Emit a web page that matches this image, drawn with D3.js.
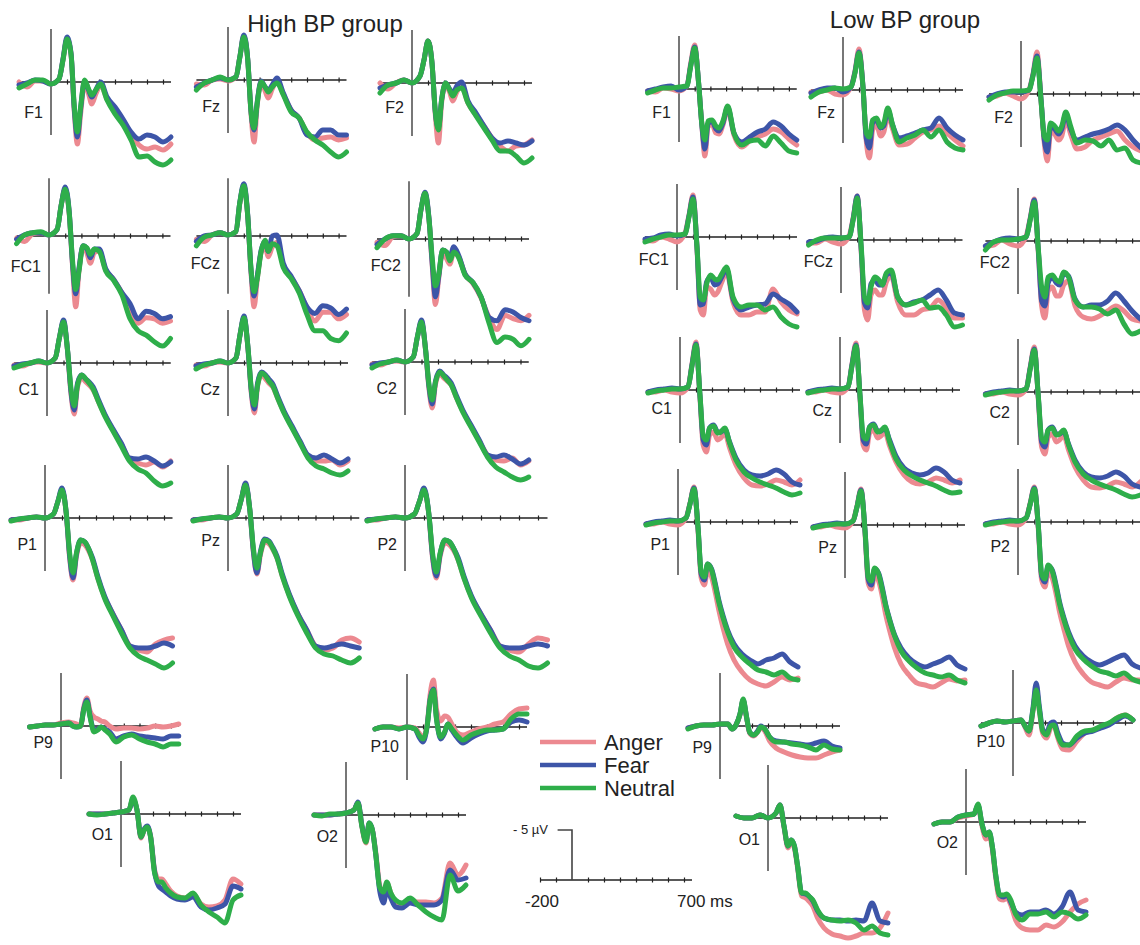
<!DOCTYPE html>
<html>
<head>
<meta charset="utf-8">
<script src="https://d3js.org/d3.v7.min.js"></script>
<style>
  body { margin: 0; background: #fff; }
  svg { display: block; }
  text { font-family: "Liberation Sans", Arial, Helvetica, sans-serif; fill: #222; }
</style>
</head>
<body>
<svg id="chart" width="1140" height="945"></svg>
<script>
// --- time grid (ms) shared by every trace ---
const times = [-200,-150,-100,-50,0,50,75,100,125,145,165,185,210,235,255,280,310,350,400,450,500,550,600,650,700,750];
const conditions = ["Anger", "Fear", "Neutral"];
const tickTimes = [100, 200, 300, 400, 500, 600, 700];

// --- amplitudes in µV (positive plotted downward), order: Anger, Fear, Neutral ---
// High BP group
const HI_F1 = [
  [0.0,0.5,-0.1,-0.1,0.2,-0.3,-2.2,-4.3,-2.8,2.8,6.2,3.2,0.1,1.2,2.2,1.2,0.3,1.7,2.7,3.9,5.2,6.3,6.7,6.5,6.8,6.2],
  [0.3,0.1,-0.2,-0.1,0.2,-0.3,-2.3,-4.5,-2.9,2.6,5.5,2.7,-0.1,0.8,1.5,0.8,0.0,1.5,2.5,3.7,5.0,5.7,5.3,5.5,6.0,5.5],
  [0.6,0.2,-0.2,-0.2,0.2,-0.3,-2.2,-4.3,-2.8,2.3,5.0,2.5,-0.2,0.7,1.3,0.8,0.2,1.8,3.2,4.3,5.8,7.5,7.4,8.0,8.3,7.8]];
const HI_FZ = [
  [0.4,0.5,0,-0.1,0.1,-0.3,-2.3,-4.4,-2.0,3.2,6.2,2.5,0.2,1.1,1.8,0.9,0.1,1.4,3.0,3.8,5.3,6.0,5.8,5.7,6.0,5.8],
  [0.7,0.3,0,-0.2,0,-0.3,-2.3,-4.5,-2.1,3.0,5.0,2.2,0.1,0.7,1.0,0.5,-0.2,1.3,3.0,3.8,5.5,5.7,5.0,5.0,5.5,5.5],
  [1.0,0.3,0,-0.3,0,-0.3,-2.3,-4.3,-2.0,3.0,4.8,2.3,0.2,0.7,1.2,0.7,0.3,1.5,3.2,3.8,5.2,6.0,6.5,7.2,7.7,7.2]];
const HI_F2 = [
  [0.0,0.6,0,-0.3,0,-0.7,-2.3,-4.2,-2.0,3.0,6.0,2.0,0.2,0.9,1.8,0.9,0.3,2.0,3.2,4.3,5.5,6.3,6.8,6.3,6.2,5.7],
  [0.5,0.2,0,-0.3,0,-0.7,-2.3,-4.2,-2.0,2.8,4.5,1.7,0.0,0.6,1.0,0.3,-0.1,1.8,3.0,4.3,5.5,6.0,5.8,6.0,6.2,5.8],
  [1.0,0.2,0,-0.3,0,-0.7,-2.3,-4.2,-2.0,2.7,4.7,1.7,0.0,0.7,1.3,0.7,0.5,2.0,3.3,4.5,5.7,6.8,6.8,7.3,8.0,7.5]];
const HI_FC1 = [
  [0.2,0.5,-0.2,-0.3,-0.1,-0.6,-2.8,-4.3,-2.0,2.7,6.5,3.2,1.0,1.6,2.5,1.5,1.4,3.1,4.0,5.2,6.5,8.0,7.5,7.6,8.0,7.8],
  [0.3,-0.1,-0.3,-0.3,-0.1,-0.6,-2.8,-4.5,-2.2,2.5,5.3,3.0,0.9,1.2,2.0,1.2,1.2,3.0,4.0,5.2,6.2,7.6,6.9,7.1,7.6,7.4],
  [0.7,-0.1,-0.3,-0.4,-0.1,-0.6,-2.8,-4.3,-2.1,2.2,4.9,3.2,0.9,1.1,1.7,1.2,1.4,3.2,4.1,5.4,7.6,8.7,9.1,9.7,10.1,9.4]];
const HI_FCZ = [
  [0.3,0.5,-0.1,-0.3,-0.1,-0.4,-3.0,-4.6,-1.8,3.2,6.5,4.0,1.5,1.0,1.9,1.0,0.6,2.7,3.8,5.0,6.6,7.8,7.0,7.0,7.6,7.2],
  [0.5,0.0,-0.1,-0.3,-0.1,-0.4,-3.1,-4.8,-1.9,3.0,5.5,3.7,1.3,0.5,1.4,0.0,-0.1,2.5,3.7,5.0,6.5,7.1,6.4,6.6,7.2,6.7],
  [0.9,0.1,-0.1,-0.3,-0.1,-0.4,-3.1,-4.6,-1.8,2.9,5.1,3.9,1.4,0.4,1.4,0.7,0.9,2.9,3.9,5.2,7.2,8.7,8.7,9.4,9.6,8.9]];
const HI_FC2 = [
  [0.3,0.6,-0.2,-0.3,0,-0.5,-2.7,-4.2,-1.8,2.4,6.0,3.7,1.2,1.8,2.3,1.2,1.6,3.2,4.1,5.4,7.2,8.3,7.0,7.3,7.5,7.0],
  [0.5,0.0,-0.3,-0.3,0,-0.5,-2.7,-4.3,-1.9,2.2,5.3,3.5,1.0,1.2,1.7,0.7,1.5,3.2,4.0,5.3,7.2,7.5,6.5,6.7,7.2,7.5],
  [0.8,0.0,-0.3,-0.3,0,-0.5,-2.7,-4.2,-1.8,1.7,4.3,3.3,1.0,1.2,2.0,1.2,1.7,3.3,4.0,5.3,7.7,9.5,9.0,9.2,9.8,9.2]];
const HI_C1 = [
  [0.2,0.3,0,-0.1,0,-0.5,-2.5,-4.1,-1.1,3.0,5.1,2.4,1.5,1.9,2.2,2.7,3.8,5.2,6.7,8.1,9.6,10.0,10.2,9.9,10.4,9.8],
  [0.3,0.1,0,-0.2,0,-0.5,-2.5,-4.3,-1.2,2.8,4.7,2.0,1.2,1.6,1.9,2.4,3.6,5.1,6.6,8.0,9.5,9.6,9.4,9.8,10.3,9.9],
  [0.5,0.2,0,-0.2,0,-0.5,-2.5,-4.1,-1.2,2.5,4.3,2.2,1.2,1.6,2.0,2.6,3.8,5.3,6.8,8.3,9.8,10.6,11.0,11.8,12.3,12.0]];
const HI_CZ = [
  [0.2,0.3,0,-0.1,0,-0.5,-2.8,-4.5,-1.4,2.9,5.0,2.3,1.2,1.6,2.0,2.4,3.5,4.9,6.4,7.9,9.3,9.8,9.8,9.7,10.2,9.8],
  [0.3,0.1,0,-0.2,0,-0.5,-2.8,-4.7,-1.5,2.7,4.6,2.0,0.9,1.2,1.6,2.1,3.3,4.8,6.3,7.8,9.2,9.5,9.2,9.6,10.0,9.6],
  [0.6,0.2,0,-0.2,0,-0.5,-2.8,-4.5,-1.5,2.5,4.2,2.2,1.0,1.3,1.8,2.3,3.5,5.0,6.5,8.0,9.5,10.3,10.6,11.0,11.2,10.8]];
const HI_C2 = [
  [0.2,0.3,0,-0.1,0,-0.5,-2.5,-4.0,-1.1,2.6,4.6,2.2,1.2,1.6,1.9,2.3,3.5,4.9,6.4,7.9,9.3,9.8,9.9,9.6,10.3,9.9],
  [0.3,0.1,0,-0.2,0,-0.5,-2.5,-4.2,-1.2,2.4,4.2,1.9,0.9,1.3,1.6,2.1,3.3,4.8,6.3,7.8,9.3,9.5,9.3,9.7,10.2,9.8],
  [0.6,0.2,0,-0.2,0,-0.5,-2.5,-4.0,-1.2,2.2,3.8,2.0,1.0,1.4,1.8,2.3,3.5,5.0,6.5,8.0,9.5,10.5,11.0,11.5,11.8,11.5]];
const HI_P1 = [
  [0.2,0.2,0,-0.1,0,-0.4,-1.6,-2.8,-0.4,4.0,6.2,3.8,2.5,2.7,3.2,4.2,6.0,7.9,9.6,11.2,12.8,13.2,13.4,12.6,12.2,12.0],
  [0.2,0.1,0,-0.1,0,-0.4,-1.6,-3.0,-0.5,3.8,6.0,3.6,2.2,2.4,3.0,4.0,5.8,7.8,9.6,11.2,12.8,13.0,13.0,12.8,12.5,12.8],
  [0.3,0.1,0,-0.1,0,-0.4,-1.6,-2.8,-0.5,3.5,5.5,3.5,2.2,2.4,3.0,4.2,6.0,8.0,9.8,11.5,13.0,13.8,14.2,14.6,15.0,14.5]];
const HI_PZ = [
  [0.2,0.2,0,-0.1,0,-0.4,-1.8,-3.3,-0.7,3.4,5.6,3.7,2.4,2.6,3.1,4.0,5.8,7.7,9.6,11.2,12.8,13.2,13.0,12.2,12.0,12.4],
  [0.2,0.1,0,-0.1,0,-0.4,-1.8,-3.5,-0.8,3.3,5.5,3.4,2.1,2.3,2.9,3.8,5.6,7.6,9.6,11.2,12.8,13.0,12.8,12.6,12.8,13.0],
  [0.3,0.1,0,-0.1,0,-0.4,-1.8,-3.3,-0.8,3.0,5.0,3.5,2.2,2.4,3.0,4.0,5.8,7.8,9.8,11.5,13.0,13.6,13.8,14.2,14.5,14.0]];
const HI_P2 = [
  [0.2,0.2,0,-0.1,0,-0.4,-1.6,-2.8,-0.4,4.0,6.0,3.8,2.5,2.7,3.2,4.2,6.0,7.9,9.6,11.2,12.8,13.2,13.4,12.6,12.0,12.2],
  [0.2,0.1,0,-0.1,0,-0.4,-1.6,-3.0,-0.5,3.8,5.8,3.6,2.2,2.4,3.0,4.0,5.8,7.8,9.6,11.2,12.8,13.0,13.0,12.8,12.6,12.8],
  [0.3,0.1,0,-0.1,0,-0.4,-1.6,-2.8,-0.5,3.5,5.4,3.5,2.2,2.4,3.0,4.2,6.0,8.0,9.8,11.5,13.0,13.8,14.2,14.8,15.0,14.5]];
const HI_P9 = [
  [0.1,0,-0.1,-0.1,-0.3,-0.4,-0.3,-0.2,0,-1.9,-2.8,-1.5,-0.9,-0.7,-0.5,-0.4,0.0,0.3,0.2,0.2,0.3,0.2,0.0,0.1,0.0,-0.2],
  [0.1,0,-0.1,-0.1,-0.2,-0.3,0,0.1,0,-1.7,-2.6,-1.0,0.4,0.3,0.1,0.3,0.6,1.3,1.0,0.8,1.0,1.1,1.2,1.3,1.0,1.0],
  [0.1,0,-0.1,-0.1,-0.2,-0.3,0,0.1,0,-1.6,-2.4,-0.9,0.6,0.4,0.1,0.4,0.8,1.6,1.1,0.9,1.3,1.6,1.8,2.1,1.8,1.8]];
const HI_P10 = [
  [0.2,0,0,0.1,0,0.1,0.6,1.0,-0.1,-3.3,-4.7,-1.7,-0.6,-1.1,-1.0,-0.3,0.5,0.8,0.5,0.2,0.0,-0.3,-0.5,-1.3,-1.8,-1.9],
  [0.2,0,0,0.2,0,0.2,1.0,1.5,0,-2.8,-3.8,-0.8,1.2,0.6,-0.3,0.3,1.0,1.6,1.1,0.7,0.4,0.3,0.2,-0.5,-0.7,-0.5],
  [0.2,0,0,0.2,0,0.2,0.8,1.2,0,-2.7,-3.7,-0.7,1.0,0.5,-0.3,0.2,0.8,1.3,0.8,0.5,0.3,0.3,0.2,-0.8,-1.3,-1.3]];
const HI_O1 = [
  [0,0,0,-0.1,-0.2,-0.4,-1.5,-0.4,2.4,1.6,1.3,2.2,5.6,6.5,6.5,7.0,7.7,8.2,8.4,8.0,9.0,9.3,9.2,8.6,6.5,7.0],
  [0,0,0,-0.1,-0.2,-0.4,-1.5,-0.4,2.3,1.5,1.2,2.3,5.8,7.2,7.5,7.8,8.2,8.5,8.6,8.3,9.3,9.6,9.4,9.0,7.2,7.5],
  [0,0.1,0,-0.1,-0.2,-0.4,-1.7,-0.4,2.3,1.6,1.3,2.3,5.9,6.8,6.8,7.4,7.9,8.3,8.4,7.9,9.1,9.8,10.3,10.9,8.6,8.1]];
const HI_O2 = [
  [0,0,0,-0.1,-0.2,-0.5,-1.2,1.2,2.8,0.9,1.5,3.6,7.0,8.0,6.8,7.8,8.8,9.0,8.5,8.7,8.7,8.8,8.3,4.8,6.0,5.0],
  [0,0,0,-0.1,-0.2,-0.5,-1.3,1.1,2.6,0.8,1.5,3.8,7.5,8.8,7.5,8.3,9.2,9.3,8.8,9.0,9.0,9.0,8.5,5.5,6.5,6.3],
  [0,0.1,-0.1,-0.1,-0.2,-0.5,-1.2,1.2,2.7,0.8,1.5,3.8,7.2,7.7,6.7,7.8,8.5,8.8,8.3,9.0,9.7,10.2,10.5,6.0,7.6,7.0]];

// Low BP group
const LO_F1 = [
  [0.2,0.3,-0.1,0.0,0.2,-0.3,-2.6,-4.4,-0.5,3.5,6.7,3.8,3.5,4.4,4.5,3.6,2.0,4.6,5.8,5.2,4.8,4.5,4.0,4.3,5.0,5.6],
  [0.2,0.0,-0.2,-0.3,0.1,-0.3,-2.4,-4.2,-0.6,3.5,6.0,3.5,3.2,4.0,4.2,3.4,1.8,4.4,5.3,4.8,4.3,4.0,3.3,3.7,4.5,5.1],
  [0.4,0.1,-0.1,-0.1,-0.2,-0.3,-2.3,-4.1,-0.6,3.4,5.1,3.2,3.1,3.7,3.9,3.2,1.7,4.4,5.6,5.2,5.1,5.7,4.7,5.4,6.2,6.4]];
const LO_FZ = [
  [0.2,0.2,0,0.4,0.5,-0.3,-1.9,-4.1,-0.2,5.0,6.8,4.0,3.5,4.6,4.2,2.5,3.9,5.5,5.4,4.8,4.2,4.0,3.6,4.3,5.0,5.6],
  [0.3,0.0,-0.2,-0.2,0.2,-0.3,-1.8,-3.8,-0.3,4.8,5.8,3.3,3.0,3.8,3.6,2.0,3.5,4.8,4.6,4.3,4.0,3.8,2.8,3.8,4.5,5.0],
  [0.7,0.2,0,-0.2,-0.1,-0.3,-1.7,-3.7,-0.3,4.3,4.7,3.0,2.8,3.7,3.3,1.8,3.5,5.2,4.8,4.5,4.0,4.7,4.0,5.2,5.8,6.0]];
const LO_F2 = [
  [0.3,0.2,-0.1,0.2,0.5,-0.4,-2.0,-4.2,0.6,4.8,6.7,3.8,4.0,4.6,4.2,2.6,4.0,5.5,5.3,4.6,4.3,4.0,3.7,4.6,5.3,5.7],
  [0.3,0,-0.2,-0.2,-0.2,-0.4,-1.9,-3.8,0.5,4.5,5.8,3.2,3.5,4.0,3.5,2.0,3.5,4.6,4.3,4.0,3.8,3.5,3.1,3.6,4.6,5.4],
  [0.6,0.1,-0.1,-0.3,-0.3,-0.4,-1.8,-3.6,0.6,4.2,4.6,2.9,3.2,3.7,3.2,1.8,3.2,4.9,4.6,4.7,5.2,4.6,5.6,5.4,6.6,6.9]];
const LO_FC1 = [
  [0.3,0.4,0.0,0.2,0.5,-0.4,-2.2,-4.2,1.2,7.3,7.8,5.0,5.2,5.8,5.5,4.5,3.5,6.5,7.8,7.8,7.5,7.5,5.2,6.5,7.3,7.7],
  [0.2,0.1,-0.2,-0.3,-0.1,-0.3,-2.1,-4.0,1.0,6.8,6.7,4.5,4.0,4.8,4.7,4.0,3.2,6.2,7.3,7.0,6.8,6.7,5.7,6.2,6.7,7.5],
  [0.5,0.2,0,-0.2,-0.2,-0.3,-2.0,-3.8,1.0,6.0,6.3,4.7,3.8,4.2,4.3,3.7,3.0,6.0,7.0,6.8,6.8,7.3,7.0,8.0,8.7,9.0]];
const LO_FCZ = [
  [0.3,0.3,-0.1,0.2,0.4,-0.4,-2.2,-4.4,1.2,7.0,8.0,5.5,5.0,5.5,5.5,4.2,3.6,6.2,7.5,7.5,7.0,6.8,6.0,6.8,7.8,7.8],
  [0.2,0.1,-0.2,-0.3,-0.2,-0.3,-2.1,-4.4,1.0,6.3,6.8,4.4,4.0,4.5,4.5,3.5,3.3,5.7,6.5,6.2,6.0,5.5,5.0,6.0,7.3,7.5],
  [0.5,0,-0.2,-0.2,-0.2,-0.3,-2.0,-4.2,0.7,5.7,6.3,4.7,3.7,4.0,4.5,3.3,3.0,5.7,6.5,6.3,6.0,6.8,6.7,7.5,8.7,8.5]];
const LO_FC2 = [
  [0.5,0.4,-0.1,0.3,0.5,-0.5,-2.3,-4.2,1.2,6.5,7.7,5.0,4.6,5.5,5.5,4.4,4.0,6.5,7.6,7.8,7.5,7.0,6.5,7.0,7.8,8.0],
  [0.5,0.1,-0.2,-0.3,-0.2,-0.4,-2.2,-4.1,1.0,6.0,6.5,4.2,3.6,4.2,4.4,3.3,3.5,5.8,6.6,6.4,6.4,6.0,5.2,6.0,7.0,7.8],
  [0.9,0.1,-0.1,-0.1,-0.2,-0.4,-2.1,-3.9,0.9,4.6,5.6,3.6,3.4,3.9,4.1,3.1,3.6,5.9,6.6,6.6,6.8,7.3,6.9,8.3,9.3,9.0]];
const LO_C1 = [
  [0.2,0.2,0,0.2,0.3,-0.3,-2.6,-4.8,0.8,5.5,6.2,4.5,4.2,5.0,4.8,4.3,5.8,7.5,8.8,9.5,9.6,9.4,9.0,9.2,9.5,9.0],
  [0.2,0,-0.1,-0.2,-0.1,-0.3,-2.5,-4.6,0.6,5.0,5.5,3.8,3.5,4.2,4.2,3.9,5.2,6.8,8.0,8.5,8.6,8.4,8.0,8.4,9.2,9.5],
  [0.3,0.1,0,-0.1,-0.1,-0.3,-2.4,-4.5,0.5,4.6,5.0,3.8,3.6,4.3,4.2,3.8,5.3,7.0,8.2,8.8,9.2,9.5,9.8,10.2,10.5,10.3]];
const LO_CZ = [
  [0.2,0.2,0,0.2,0.3,-0.3,-2.6,-4.7,0.8,5.5,6.0,4.3,4.0,4.8,4.6,4.2,5.6,7.2,8.5,9.2,9.4,9.2,8.8,9.0,9.3,9.0],
  [0.2,0,-0.1,-0.2,-0.1,-0.3,-2.5,-4.5,0.6,5.0,5.4,3.7,3.4,4.1,4.1,3.8,5.0,6.6,7.8,8.3,8.5,8.3,7.8,8.2,9.0,9.3],
  [0.3,0.1,0,-0.1,-0.1,-0.3,-2.4,-4.4,0.5,4.6,4.9,3.7,3.5,4.2,4.1,3.7,5.2,6.9,8.0,8.6,9.0,9.3,9.6,10.0,10.3,10.2]];
const LO_C2 = [
  [0.2,0.2,0,0.2,0.3,-0.3,-2.5,-4.5,0.8,5.5,6.2,4.5,4.2,5.0,4.8,4.3,5.8,7.5,8.8,9.5,9.6,9.4,9.0,9.2,9.5,9.0],
  [0.2,0,-0.1,-0.2,-0.1,-0.3,-2.4,-4.3,0.6,5.0,5.5,3.8,3.5,4.2,4.2,3.9,5.2,6.8,8.0,8.5,8.6,8.4,8.0,8.4,9.2,9.5],
  [0.3,0.1,0,-0.1,-0.1,-0.3,-2.3,-4.2,0.5,4.6,5.0,3.8,3.6,4.3,4.2,3.8,5.3,7.0,8.2,8.8,9.2,9.5,9.8,10.2,10.5,10.3]];
const LO_P1 = [
  [0.2,0.2,0,0.2,0.3,-0.4,-1.9,-3.5,0.8,5.6,6.3,4.8,5.5,7.2,8.8,10.5,12.2,13.8,15.0,15.8,16.2,16.4,16.0,15.5,15.8,15.6],
  [0.2,0,-0.1,-0.2,-0.1,-0.4,-1.8,-3.4,0.5,5.2,5.8,4.2,4.7,6.3,7.8,9.3,10.8,12.2,13.2,13.8,14.2,13.8,13.6,13.2,14.0,14.5],
  [0.3,0.1,0,-0.1,-0.1,-0.4,-1.8,-3.3,0.5,5.0,5.5,4.2,4.8,6.5,8.0,9.5,11.0,12.5,13.5,14.2,14.8,15.0,15.3,15.0,15.6,15.8]];
const LO_PZ = [
  [0.2,0.2,0,0.2,0.3,-0.4,-1.9,-3.6,0.8,5.8,6.4,5.0,5.6,7.3,9.0,10.6,12.3,13.9,15.0,15.8,16.0,16.2,15.8,15.4,15.6,15.5],
  [0.2,0,-0.1,-0.2,-0.1,-0.4,-1.8,-3.5,0.5,5.4,6.0,4.4,4.8,6.4,8.0,9.5,11.0,12.3,13.3,13.9,14.2,13.9,13.6,13.2,14.0,14.4],
  [0.3,0.1,0,-0.1,-0.1,-0.4,-1.8,-3.4,0.5,5.2,5.6,4.3,4.9,6.6,8.1,9.6,11.1,12.6,13.6,14.3,14.8,15.0,15.2,15.0,15.5,15.8]];
const LO_P2 = [
  [0.2,0.2,0,0.2,0.3,-0.4,-1.9,-3.5,0.8,5.8,6.5,5.0,5.6,7.3,9.0,10.6,12.4,14.0,15.2,16.0,16.3,16.5,16.0,15.6,15.8,15.8],
  [0.2,0,-0.1,-0.2,-0.1,-0.4,-1.8,-3.4,0.5,5.4,6.0,4.4,4.8,6.4,8.0,9.5,11.0,12.4,13.4,14.0,14.3,14.0,13.6,13.3,14.2,14.6],
  [0.3,0.1,0,-0.1,-0.1,-0.4,-1.8,-3.3,0.5,5.2,5.7,4.3,4.9,6.6,8.2,9.7,11.2,12.7,13.7,14.4,14.9,15.1,15.4,15.1,15.7,16.0]];
const LO_P9 = [
  [0.2,0,-0.1,-0.1,-0.2,-0.2,0.3,-0.1,-1.1,-2.5,-0.9,0.7,1.0,0.6,0.2,0.5,1.5,2.2,2.6,2.9,3.1,3.2,3.2,2.9,2.6,2.4],
  [0.2,0,-0.1,-0.1,-0.2,-0.2,0.3,-0.1,-1.2,-2.6,-1.0,0.6,0.9,0.5,0.0,0.3,1.1,1.5,1.6,1.7,1.8,1.9,1.7,1.5,2.0,2.2],
  [0.3,0,-0.1,-0.1,-0.2,-0.2,0.3,-0.1,-1.2,-2.7,-1.0,0.6,0.9,0.6,0.1,0.3,1.1,1.6,1.6,1.8,1.9,2.1,2.4,1.9,2.3,2.4]];
const LO_P10 = [
  [0.3,0,-0.2,-0.1,-0.2,-0.3,0.4,1.2,-1.2,-3.5,-1.2,1.0,1.5,0.5,0.2,1.5,2.6,2.7,1.8,1.0,0.7,0.4,0.1,-0.5,-0.8,-0.3],
  [0.3,0,-0.2,-0.1,-0.2,-0.3,0.3,0.8,-1.5,-4.0,-1.6,0.6,1.0,0.0,-0.1,1.0,2.0,2.2,1.5,1.0,0.8,0.5,0.2,-0.3,-0.7,-0.3],
  [0.3,0,-0.2,-0.1,-0.2,-0.3,0.3,0.8,-1.3,-3.3,-1.3,0.8,1.2,0.3,0.2,1.3,2.2,2.2,1.3,0.8,0.7,0.3,0.0,-0.5,-0.8,-0.3]];
const LO_O1 = [
  [-0.2,0,0,-0.3,0,-0.5,-1.3,0.9,3.0,2.4,3.0,5.0,7.8,8.0,8.3,8.8,10.0,11.0,11.6,11.8,12.0,11.8,11.5,11.5,11.0,9.5],
  [-0.2,0,0,-0.3,0,-0.5,-1.3,0.8,2.8,2.2,2.8,4.8,7.5,7.6,7.8,8.3,9.3,10.0,10.2,10.2,10.3,10.2,10.3,8.5,10.3,10.5],
  [-0.2,0,0,-0.3,0,-0.5,-1.3,0.8,2.8,2.2,2.8,4.8,7.5,7.5,7.8,8.2,9.2,10.0,10.2,10.3,10.2,10.5,11.2,10.8,11.5,11.7]];
const LO_O2 = [
  [0.2,0,0,-0.4,-0.6,-0.8,-1.6,0.4,1.7,1.3,2.8,5.5,7.7,7.8,7.6,8.3,9.8,10.6,10.8,10.8,10.3,10.5,10.0,9.0,8.2,7.8],
  [0.2,0,0,-0.5,-0.7,-0.8,-1.7,0.2,1.3,1.0,2.5,5.2,7.3,7.5,7.3,8.0,9.0,9.3,9.0,9.0,8.8,9.2,8.5,7.0,8.8,9.0],
  [0.2,0,0,-0.5,-0.7,-0.8,-1.8,0.2,1.3,1.0,2.5,5.2,7.3,7.3,7.2,7.8,9.2,9.8,9.2,9.2,9.0,9.5,9.0,9.2,9.7,9.3]];

// --- layout: x0 = x of 0 ms, y0 = baseline, k = px per 100 ms, s = px per µV, ly = label baseline offset ---
const panels = [
  { label: "F1",  data: HI_F1,  x0: 51,  y0: 82,  k: 16.0, s: 10,   ly: 36 },
  { label: "Fz",  data: HI_FZ,  x0: 228, y0: 80,  k: 15.8, s: 10,   ly: 32 },
  { label: "F2",  data: HI_F2,  x0: 412, y0: 83,  k: 16.0, s: 10,   ly: 30 },
  { label: "FC1", data: HI_FC1, x0: 49,  y0: 236, k: 16.2, s: 10.9, ly: 36 },
  { label: "FCz", data: HI_FCZ, x0: 228, y0: 236, k: 15.8, s: 10.9, ly: 33 },
  { label: "FC2", data: HI_FC2, x0: 409, y0: 239, k: 16.0, s: 10.9, ly: 32 },
  { label: "C1",  data: HI_C1,  x0: 47,  y0: 363, k: 16.5, s: 10,   ly: 32 },
  { label: "Cz",  data: HI_CZ,  x0: 228, y0: 363, k: 16.0, s: 10,   ly: 32 },
  { label: "C2",  data: HI_C2,  x0: 405, y0: 362, k: 16.5, s: 10,   ly: 32 },
  { label: "P1",  data: HI_P1,  x0: 45,  y0: 518, k: 17.0, s: 10,   ly: 32 },
  { label: "Pz",  data: HI_PZ,  x0: 228, y0: 518, k: 17.5, s: 10,   ly: 28 },
  { label: "P2",  data: HI_P2,  x0: 405, y0: 518, k: 19.0, s: 10,   ly: 32 },
  { label: "P9",  data: HI_P9,  x0: 61,  y0: 726, k: 15.7, s: 10,   ly: 22 },
  { label: "P10", data: HI_P10, x0: 407, y0: 727, k: 16.0, s: 10,   ly: 25 },
  { label: "O1",  data: HI_O1,  x0: 121, y0: 814, k: 16.0, s: 10,   ly: 26 },
  { label: "O2",  data: HI_O2,  x0: 346, y0: 815, k: 16.0, s: 10,   ly: 27 },
  { label: "F1",  data: LO_F1,  x0: 679, y0: 89,  k: 15.7, s: 10,   ly: 29 },
  { label: "Fz",  data: LO_FZ,  x0: 843, y0: 90,  k: 16.0, s: 10,   ly: 28 },
  { label: "F2",  data: LO_F2,  x0: 1021, y0: 94, k: 16.0, s: 10,   ly: 29 },
  { label: "FC1", data: LO_FC1, x0: 677, y0: 237, k: 16.0, s: 10,   ly: 28 },
  { label: "FCz", data: LO_FCZ, x0: 841, y0: 240, k: 16.2, s: 10,   ly: 27 },
  { label: "FC2", data: LO_FC2, x0: 1018, y0: 241, k: 16.3, s: 10,  ly: 27 },
  { label: "C1",  data: LO_C1,  x0: 680, y0: 390, k: 16.0, s: 10,   ly: 24 },
  { label: "Cz",  data: LO_CZ,  x0: 840, y0: 390, k: 16.0, s: 10,   ly: 26 },
  { label: "C2",  data: LO_C2,  x0: 1018, y0: 392, k: 16.3, s: 10,  ly: 26 },
  { label: "P1",  data: LO_P1,  x0: 678, y0: 522, k: 16.0, s: 10,   ly: 28 },
  { label: "Pz",  data: LO_PZ,  x0: 845, y0: 525, k: 16.0, s: 10,   ly: 28 },
  { label: "P2",  data: LO_P2,  x0: 1018, y0: 522, k: 16.3, s: 10,  ly: 30 },
  { label: "P9",  data: LO_P9,  x0: 720, y0: 726, k: 16.0, s: 10,   ly: 27 },
  { label: "P10", data: LO_P10, x0: 1013, y0: 723, k: 16.0, s: 10,  ly: 24 },
  { label: "O1",  data: LO_O1,  x0: 768, y0: 818, k: 16.0, s: 10,   ly: 27 },
  { label: "O2",  data: LO_O2,  x0: 966, y0: 822, k: 16.0, s: 10,   ly: 26 }
];

const colors = { Anger: "#ec8990", Fear: "#3d55a8", Neutral: "#2eae4a" };
const lineWidth = 5;

const svg = d3.select("#chart");

// --- group titles ---
svg.append("text").attr("x", 325).attr("y", 32).attr("text-anchor", "middle")
  .style("font-size", "24px").text("High BP group");
svg.append("text").attr("x", 905).attr("y", 28).attr("text-anchor", "middle")
  .style("font-size", "24px").text("Low BP group");

// --- one ERP panel ---
function drawPanel(p) {
  const x = d3.scaleLinear().domain([0, 100]).range([p.x0, p.x0 + p.k]);
  const y = d3.scaleLinear().domain([0, 1]).range([p.y0, p.y0 + p.s]);
  const g = svg.append("g");

  // time axis
  g.append("g")
    .attr("transform", `translate(0,${p.y0})`)
    .call(d3.axisBottom(x).tickValues(tickTimes).tickFormat("").tickSizeOuter(0).tickSizeInner(3))
    .call(a => a.select(".domain").attr("stroke", "#222").attr("stroke-width", 1.3).attr("d", `M${x(-200)},0H${x(750)}`))
    .call(a => a.selectAll(".tick line").attr("stroke", "#222").attr("stroke-width", 1.2).attr("y1", -2.5).attr("y2", 2.5));

  // amplitude axis at 0 ms
  g.append("line")
    .attr("x1", x(0)).attr("x2", x(0))
    .attr("y1", y(-5.3)).attr("y2", y(5.3))
    .attr("stroke", "#555").attr("stroke-width", 1.6);

  g.append("text")
    .attr("x", x(0) - 8).attr("y", p.y0 + p.ly)
    .attr("text-anchor", "end")
    .style("font-size", "16px")
    .text(p.label);

  const line = d3.line()
    .x((d, i) => x(times[i]))
    .y(d => y(d))
    .curve(d3.curveMonotoneX);

  conditions.forEach((c, ci) => {
    g.append("path")
      .datum(p.data[ci])
      .attr("d", line)
      .attr("fill", "none")
      .attr("stroke", colors[c])
      .attr("stroke-width", lineWidth)
      .attr("stroke-linejoin", "round")
      .attr("stroke-linecap", "round");
  });
}

panels.forEach(drawPanel);

// --- legend ---
const legend = svg.append("g");
conditions.forEach((c, i) => {
  const ly = 742 + i * 23;
  legend.append("line").attr("x1", 540).attr("x2", 596).attr("y1", ly).attr("y2", ly)
    .attr("stroke", colors[c]).attr("stroke-width", 4.5);
  legend.append("text").attr("x", 604).attr("y", ly + 8)
    .style("font-size", "22px").text(c);
});

// --- scale bar ---
const sx = d3.scaleLinear().domain([0, 100]).range([572, 588]);
const sy = d3.scaleLinear().domain([0, 1]).range([880, 890]);
const bar = svg.append("g");
bar.append("g")
  .attr("transform", "translate(0,880)")
  .call(d3.axisBottom(sx).tickValues([-200, -100, 100, 200, 300, 400, 500, 600, 700]).tickFormat("").tickSizeOuter(0).tickSizeInner(3))
  .call(a => a.select(".domain").attr("stroke", "#222").attr("stroke-width", 1.3).attr("d", `M${sx(-200)},0H${sx(750)}`))
  .call(a => a.selectAll(".tick line").attr("stroke", "#222").attr("stroke-width", 1.2).attr("y1", -2.5).attr("y2", 2.5));
bar.append("path")
  .attr("d", `M${sx(-90)},${sy(-5)}H${sx(0)}V${sy(0)}`)
  .attr("fill", "none").attr("stroke", "#444").attr("stroke-width", 1.6);
bar.append("text").attr("x", 513).attr("y", 834).style("font-size", "13px").text("- 5 µV");
bar.append("text").attr("x", 525).attr("y", 907).style("font-size", "17px").text("-200");
bar.append("text").attr("x", 677).attr("y", 907).style("font-size", "17px").text("700 ms");
</script>
</body>
</html>
